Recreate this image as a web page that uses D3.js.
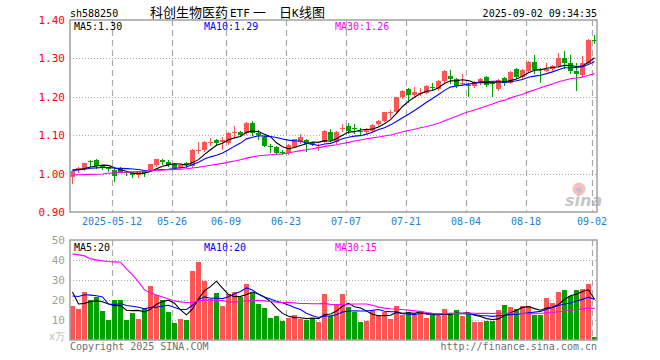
<!DOCTYPE html>
<html>
<head>
<meta charset="utf-8">
<script src="https://cdn.jsdelivr.net/npm/d3@7/dist/d3.min.js"></script>
<style>
  body { margin: 0; background: #fff; }
  svg { display: block; }
  text { font-family: "DejaVu Sans Mono", monospace; font-size: 10px; }
</style>
</head>
<body>
<div id="chart"></div>
<script>
// trading days shown (2025-04-28 .. 2025-09-02)
var dates = [
  "04-28","04-29","04-30",
  "05-06","05-07","05-08","05-09","05-12","05-13","05-14","05-15","05-16",
  "05-19","05-20","05-21","05-22","05-23","05-26","05-27","05-28","05-29","05-30",
  "06-03","06-04","06-05","06-06","06-09","06-10","06-11","06-12","06-13",
  "06-16","06-17","06-18","06-19","06-20","06-23","06-24","06-25","06-26","06-27","06-30",
  "07-01","07-02","07-03","07-04","07-07","07-08","07-09","07-10","07-11",
  "07-14","07-15","07-16","07-17","07-18","07-21","07-22","07-23","07-24","07-25",
  "07-28","07-29","07-30","07-31","08-01",
  "08-04","08-05","08-06","08-07","08-08","08-11","08-12","08-13","08-14","08-15",
  "08-18","08-19","08-20","08-21","08-22","08-25","08-26","08-27","08-28","08-29",
  "09-01","09-02"
];

var open = [
  0.992,1.009,1.012,1.033,1.036,1.020,1.017,1.009,1.014,1.005,
  1.001,0.996,1.007,1.009,1.022,1.036,1.029,1.025,1.014,1.028,
  1.020,1.059,1.062,1.082,1.088,1.083,1.079,1.106,1.109,1.105,
  1.133,1.105,1.095,1.072,1.069,1.057,1.053,1.070,1.081,1.088,
  1.080,1.066,1.083,1.109,1.081,1.118,1.124,1.119,1.111,1.109,
  1.112,1.129,1.138,1.160,1.161,1.200,1.220,1.205,1.210,1.211,
  1.226,1.220,1.242,1.254,1.246,1.236,1.232,1.229,1.235,1.252,
  1.236,1.220,1.248,1.237,1.272,1.252,1.268,1.291,1.272,1.268,
  1.272,1.280,1.300,1.287,1.268,1.257,1.287,1.348
];
var high = [
  1.008,1.017,1.028,1.036,1.038,1.022,1.018,1.011,1.016,1.007,
  1.002,1.004,1.010,1.026,1.038,1.038,1.036,1.027,1.024,1.031,
  1.063,1.081,1.085,1.092,1.091,1.096,1.108,1.124,1.112,1.134,
  1.136,1.114,1.097,1.076,1.071,1.061,1.076,1.091,1.103,1.090,
  1.083,1.077,1.113,1.115,1.111,1.129,1.131,1.129,1.118,1.118,
  1.129,1.140,1.161,1.166,1.200,1.218,1.222,1.226,1.222,1.231,
  1.237,1.244,1.271,1.270,1.248,1.259,1.235,1.241,1.248,1.254,
  1.240,1.246,1.252,1.268,1.274,1.272,1.292,1.309,1.274,1.289,
  1.283,1.313,1.319,1.309,1.287,1.306,1.350,1.361
];
var low = [
  0.976,1.005,1.010,1.020,1.015,1.013,1.008,0.982,1.003,0.996,
  0.990,0.990,0.995,1.008,1.020,1.025,1.020,1.013,1.012,1.018,
  1.018,1.053,1.058,1.075,1.075,1.063,1.077,1.096,1.098,1.103,
  1.100,1.089,1.071,1.057,1.051,1.050,1.050,1.068,1.079,1.060,
  1.074,1.062,1.081,1.085,1.079,1.112,1.105,1.105,1.100,1.107,
  1.110,1.127,1.136,1.148,1.159,1.198,1.187,1.202,1.205,1.209,
  1.218,1.218,1.239,1.235,1.226,1.231,1.202,1.226,1.233,1.229,
  1.202,1.218,1.231,1.235,1.248,1.250,1.266,1.261,1.239,1.266,
  1.270,1.278,1.274,1.261,1.218,1.255,1.285,1.339
];
var close = [
  1.007,1.015,1.027,1.031,1.020,1.017,1.012,0.995,1.005,1.001,
  0.996,1.003,1.001,1.025,1.037,1.029,1.022,1.015,1.022,1.022,
  1.062,1.061,1.083,1.083,1.079,1.088,1.107,1.108,1.101,1.133,
  1.105,1.100,1.073,1.070,1.053,1.053,1.075,1.089,1.096,1.076,
  1.076,1.070,1.111,1.088,1.109,1.120,1.112,1.117,1.109,1.116,
  1.127,1.138,1.160,1.161,1.199,1.216,1.205,1.213,1.211,1.228,
  1.225,1.241,1.268,1.246,1.229,1.237,1.231,1.239,1.246,1.231,
  1.235,1.244,1.237,1.265,1.251,1.270,1.290,1.270,1.270,1.272,
  1.280,1.300,1.287,1.268,1.259,1.287,1.348,1.346
];
// volume, 10k units
var volume = [
  17,15.5,24,20,21.5,14.5,10,20,20,10,
  13.5,10.5,16,27,22.5,20,14,8.5,10.5,10,
  34.5,39,29.5,20.5,23.5,17,23,24,21.5,28,
  23.5,18,16,11,12,9.5,11,12.5,10.5,10,
  11,9,23,12,17.5,23,16.3,14.2,9.2,9.7,
  15,12.5,14.2,10.3,17,12.5,14.2,12.5,14.5,10.8,
  12.5,12,15.5,12.5,15,12,13.3,9.2,9.2,9.7,
  9.7,15,17.5,16.5,15.5,17,17,12.5,12.5,21,
  18.7,24,25,22,25,25.5,28,1.5
];
// 29 sessions before the window, estimated from where the MA lines start
var prevClose = [
  1.000,1.012,1.016,1.005,1.002,0.950,0.965,0.975,0.971,0.975,
  0.980,0.985,0.990,0.995,1.000,0.998,0.995,1.000,0.998,1.000,
  1.000,1.008,1.005,1.010,1.007,1.012,1.015,1.010,1.006
];
var prevVolume = [
  30.5,39,65,36.5,29.5,19,26,26,109,103.5,
  115.5,136,72,52.5,50,44,38.5,25.5,19,34.5,
  18,15,22,25,20,45.5,22.5,15.5,19.5
];

var tickDates = ["05-12","05-26","06-09","06-23","07-07","07-21","08-04","08-18","09-02"];
var tickLabels = ["2025-05-12","05-26","06-09","06-23","07-07","07-21","08-04","08-18","09-02"];
var priceTicks = [0.9, 1.0, 1.1, 1.2, 1.3, 1.4];
var volTicks = [0, 10, 20, 30, 40, 50];
var maPeriods = [5, 10, 30];
var maColors = ["#000000", "#0000ff", "#ff00ff"];

var W = 660, H = 360;
var left = 70, right = 597;
var pTop = 20, pBottom = 212, vTop = 240, vBottom = 340;
var upColor = "#ff5555", downColor = "#00a000";

var svg = d3.select("#chart").append("svg")
  .attr("width", W).attr("height", H);

var x = d3.scaleBand().domain(dates).range([left, right])
  .paddingInner(1 / 6).paddingOuter(0);
var bw = x.bandwidth();
var yP = d3.scaleLinear().domain([0.9, 1.4]).range([pBottom, pTop]);
var yV = d3.scaleLinear().domain([0, 50]).range([vBottom, vTop]);

function movingAvg(hist, vals, n) {
  var all = hist.concat(vals);
  return vals.map(function (v, i) {
    var k = i + hist.length, s = 0, c = 0;
    for (var j = k - n + 1; j <= k; j++) { if (j >= 0) { s += all[j]; c++; } }
    return s / c;
  });
}
var priceMa = maPeriods.map(function (n) { return movingAvg(prevClose, close, n); });
var volMa = maPeriods.map(function (n) { return movingAvg(prevVolume, volume, n); });

// header
svg.append("text").attr("x", 70).attr("y", 16.5).text("sh588250");
var title = svg.append("text").attr("y", 16.5);
[["科创生物医药", 150, true], ["ETF", 230, false], ["一", 253, true],
 ["日", 279, true], ["K", 292, false], ["线图", 299, true]].forEach(function (p) {
  title.append("tspan").attr("x", p[1]).text(p[0])
    .style("font-family", p[2] ? "'Noto Sans CJK SC', sans-serif" : "'DejaVu Sans Mono', monospace")
    .style("font-size", p[2] ? "13px" : "11px");
});
svg.append("text").attr("x", right).attr("y", 16.5).attr("text-anchor", "end")
  .text("2025-09-02 09:34:35");

function panel(top, bottom, yScale, gridVals) {
  var g = svg.append("g");
  g.selectAll(".hgrid").data(gridVals).enter().append("line")
    .attr("x1", left).attr("x2", right)
    .attr("y1", function (d) { return Math.round(yScale(d)) + 0.5; })
    .attr("y2", function (d) { return Math.round(yScale(d)) + 0.5; })
    .attr("stroke", "#a8a8a8").attr("stroke-dasharray", "1,2");
  g.selectAll(".vgrid").data(tickDates).enter().append("line")
    .attr("x1", function (d) { return x(d) + 0.5; })
    .attr("x2", function (d) { return x(d) + 0.5; })
    .attr("y1", top).attr("y2", bottom)
    .attr("stroke", "#a8a8a8").attr("stroke-width", 1.2)
    .attr("stroke-dasharray", "6,4");
  return g;
}
panel(pTop, pBottom, yP, [1.0, 1.1, 1.2, 1.3]);
panel(vTop, vBottom, yV, [10, 20, 30, 40]);

// sina watermark
var wm = svg.append("g").attr("opacity", 0.75);
wm.append("circle").attr("cx", 579).attr("cy", 189).attr("r", 6.5).attr("fill", "#f7a9ae");
wm.append("circle").attr("cx", 579).attr("cy", 190).attr("r", 3).attr("fill", "#b0b0b0");
wm.append("text").attr("x", 565).attr("y", 206)
  .style("font-family", "'DejaVu Sans', sans-serif").style("font-size", "16px")
  .style("font-style", "italic").style("font-weight", "bold")
  .attr("fill", "#b4b4b4").text("sina");

// axes
var yAxisP = d3.axisLeft(yP).tickValues(priceTicks).tickSize(0).tickPadding(4)
  .tickFormat(d3.format(".2f"));
var gP = svg.append("g").attr("transform", "translate(" + (left - 1) + ",0)").call(yAxisP);
gP.select(".domain").remove();
gP.selectAll("text").attr("fill", "#ff0000")
  .style("font-family", "'DejaVu Sans Mono', monospace").style("font-size", "11px");

var yAxisV = d3.axisLeft(yV).tickValues(volTicks).tickSize(0).tickPadding(4)
  .tickFormat(function (d) { return d === 0 ? "x万" : d; });
var gV = svg.append("g").attr("transform", "translate(" + (left - 1) + ",0)").call(yAxisV);
gV.select(".domain").remove();
gV.selectAll("text").attr("fill", "#a0a0a0")
  .style("font-family", "'DejaVu Sans Mono', monospace").style("font-size", "11px");
gV.selectAll(".tick").filter(function (d) { return d === 0; }).select("text")
  .attr("dy", "-0.1em").style("font-size", "10px").attr("fill", "#b8b8b8");

var xAxis = d3.axisBottom(x).tickValues(tickDates).tickSize(0).tickPadding(6)
  .tickFormat(function (d, i) { return tickLabels[i]; });
var gX = svg.append("g").attr("transform", "translate(" + (-bw / 2) + "," + pBottom + ")").call(xAxis);
gX.select(".domain").remove();
gX.selectAll("text").attr("fill", "#1a7fd8")
  .style("font-family", "'DejaVu Sans Mono', monospace").style("font-size", "10px");

// volume bars
svg.append("g").selectAll("rect").data(volume).enter().append("rect")
  .attr("x", function (d, i) { return x(dates[i]); })
  .attr("width", bw)
  .attr("y", function (d) { return Math.round(yV(d)); })
  .attr("height", function (d) { return vBottom - Math.round(yV(d)); })
  .attr("fill", function (d, i) { return close[i] >= open[i] ? upColor : downColor; })
  .attr("shape-rendering", "crispEdges");

// candles
svg.append("g").selectAll("g").data(dates).enter().append("g")
  .each(function (d, i) {
    var g = d3.select(this);
    var col = close[i] >= open[i] ? upColor : downColor;
    var cx = x(d) + Math.floor(bw / 2) + 0.5;
    g.append("line")
      .attr("x1", cx).attr("x2", cx)
      .attr("y1", Math.round(yP(high[i]))).attr("y2", Math.round(yP(low[i])) + 1)
      .attr("stroke", col).attr("shape-rendering", "crispEdges");
    var top = Math.round(yP(Math.max(open[i], close[i])));
    var bot = Math.round(yP(Math.min(open[i], close[i])));
    g.append("rect")
      .attr("x", x(d)).attr("width", bw)
      .attr("y", top).attr("height", Math.max(1, bot - top))
      .attr("fill", col).attr("shape-rendering", "crispEdges");
  });

// moving average lines
svg.append("defs").html(
  '<clipPath id="cp"><rect x="70" y="20" width="527" height="192"/></clipPath>' +
  '<clipPath id="cv"><rect x="70" y="240" width="527" height="100"/></clipPath>');

function drawLines(series, yScale, clip) {
  var line = d3.line()
    .x(function (d, i) { return x(dates[i]) + bw / 2; })
    .y(function (d) { return yScale(d); });
  svg.append("g").attr("clip-path", "url(#" + clip + ")")
    .selectAll("path").data(series).enter().append("path")
    .attr("d", line)
    .attr("fill", "none")
    .attr("stroke", function (d, k) { return maColors[k]; })
    .attr("stroke-width", 1.1);
}
drawLines(priceMa, yP, "cp");
drawLines(volMa, yV, "cv");

// frames
[[pTop, pBottom], [vTop, vBottom]].forEach(function (p) {
  svg.append("rect").attr("x", left).attr("y", p[0])
    .attr("width", right - left).attr("height", p[1] - p[0])
    .attr("fill", "none").attr("stroke", "#a0a0a0").attr("stroke-width", 1.5);
});

// MA legends
var labelX = [74, 204, 335];
var last = dates.length - 1;
maPeriods.forEach(function (n, k) {
  svg.append("text").attr("x", labelX[k]).attr("y", 30).attr("fill", maColors[k])
    .text("MA" + n + ":" + priceMa[k][last].toFixed(2));
  svg.append("text").attr("x", labelX[k]).attr("y", 250.5).attr("fill", maColors[k])
    .text("MA" + n + ":" + Math.floor(volMa[k][last]));
});

// footer
svg.append("text").attr("x", 70).attr("y", 349.5).attr("fill", "#707070")
  .text("Copyright 2025 SINA.COM");
svg.append("text").attr("x", right).attr("y", 349.5).attr("text-anchor", "end")
  .attr("fill", "#707070").text("http://finance.sina.com.cn");
</script>
</body>
</html>
